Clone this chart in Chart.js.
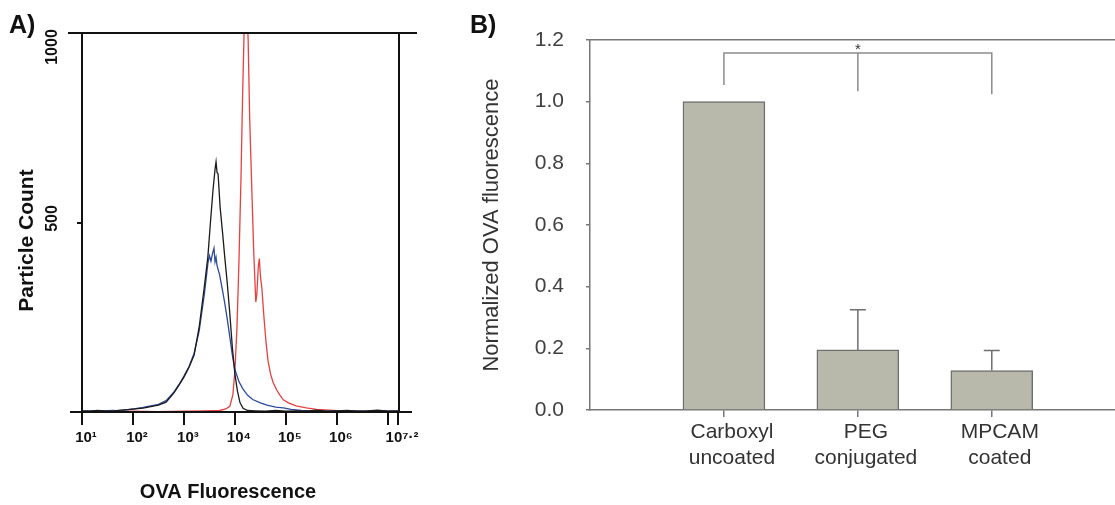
<!DOCTYPE html>
<html>
<head>
<meta charset="utf-8">
<script src="https://cdn.jsdelivr.net/npm/chart.js@4.4.0/dist/chart.umd.min.js"></script>
<style>
  body { margin: 0; background: #fff; width: 1115px; height: 505px; position: relative; overflow: hidden; font-family: 'Liberation Sans', Arial, sans-serif; }
  #wrapA { position: absolute; left: 0; top: 0; width: 450px; height: 505px; }
  #wrapB { position: absolute; left: 460px; top: 0; width: 655px; height: 505px; }
  .panel { position: absolute; font-weight: bold; font-size: 25px; color: #111; line-height: 1; }
</style>
</head>
<body>
<div id="wrapA"><canvas id="histChart"></canvas></div>
<div id="wrapB"><canvas id="barChart"></canvas></div>
<div class="panel" style="left:9px;top:12px">A)</div>
<div class="panel" style="left:470px;top:12px">B)</div>

<script>
// ---- Panel A: flow histogram (x = log10 of OVA fluorescence, y = particle count)
const blackCurve = [
  [1.0,3],[1.15,2],[1.3,4],[1.45,3],[1.6,2],[1.75,5],[1.9,6],[2.05,8],[2.2,10],[2.35,14],
  [2.5,18],[2.65,26],[2.8,50],[2.9,70],[3.0,92],[3.1,118],[3.2,150],[3.3,225],[3.4,330],[3.47,410],
  [3.52,500],[3.57,585],[3.61,640],[3.63,660],[3.65,632],[3.67,628],[3.71,540],[3.76,470],[3.8,410],[3.85,340],
  [3.9,260],[3.95,170],[4.0,100],[4.05,55],[4.1,25],[4.16,10],[4.25,4],[4.4,3],[4.6,2],[4.8,4],
  [5.0,2],[5.2,3],[5.4,2],[5.6,5],[5.8,2],[6.0,3],[6.2,4],[6.4,2],[6.6,3],[6.8,5],[7.0,2],[7.2,3]
];
const blueCurve = [
  [1.0,2],[1.15,3],[1.3,2],[1.45,3],[1.6,4],[1.75,3],[1.9,6],[2.05,9],[2.2,12],[2.35,16],
  [2.5,20],[2.65,30],[2.8,52],[2.9,72],[3.0,95],[3.1,120],[3.2,155],[3.3,215],[3.4,310],[3.47,392],
  [3.5,412],[3.53,398],[3.56,418],[3.59,432],[3.61,396],[3.63,408],[3.65,386],[3.7,362],[3.76,318],[3.8,288],
  [3.85,245],[3.9,198],[3.95,150],[4.0,112],[4.08,80],[4.16,60],[4.25,44],[4.35,33],[4.5,24],[4.63,18],
  [4.8,13],[4.95,11],[5.1,7],[5.3,4],[5.5,3],[5.8,2],[6.1,3],[6.5,2],[6.8,3],[7.2,2]
];
const redCurve = [
  [1.0,1],[1.5,1],[2.0,2],[2.5,1],[3.0,2],[3.4,3],[3.7,4],[3.82,8],[3.9,15],[3.96,45],
  [4.0,110],[4.04,220],[4.08,400],[4.12,620],[4.15,830],[4.18,1000],[4.21,1090],[4.24,1060],[4.26,980],[4.29,775],
  [4.33,595],[4.37,420],[4.41,290],[4.43,310],[4.46,385],[4.48,405],[4.5,360],[4.53,325],[4.57,250],[4.61,185],
  [4.65,135],[4.7,100],[4.75,78],[4.82,58],[4.88,45],[4.95,32],[5.05,24],[5.2,16],[5.4,11],[5.6,7],
  [5.85,5],[6.1,3],[6.4,2],[6.8,2],[7.2,1]
];
const tickExpA = [1, 2, 3, 4, 5, 6, 7, 7.2];
const tickLabelA = ['10¹', '10²', '10³', '10⁴', '10⁵', '10⁶', '', '10⁷·²'];
const countTicksA = [500, 1000];

// ---- Panel B: normalized fluorescence bars
const categories = [['Carboxyl', 'uncoated'], ['PEG', 'conjugated'], ['MPCAM', 'coated']];
const catPos = [1, 2, 3];
const meanFluor = [1.0, 0.195, 0.128];
const errFluor = [0, 0.13, 0.065];
const yTicksB = [0, 0.2, 0.4, 0.6, 0.8, 1.0, 1.2];
const bracketX = [1, 1, 3, 3];
const bracketY = [1.054, 1.158, 1.158, 1.024];
const midLegX = [2, 2];
const midLegY = [1.158, 1.034];
const starY = 1.178;

const FAM = "'Liberation Sans', Arial, sans-serif";
Chart.defaults.font.family = FAM;

const toPts = arr => arr.map(p => ({ x: Math.pow(10, p[0]), y: p[1] }));

// box, rotated count labels and axis titles for panel A
const frameA = {
  id: 'frameA',
  afterDatasetsDraw(chart) {
    const { ctx, chartArea: a, scales: { y } } = chart;
    ctx.save();
    ctx.strokeStyle = '#111';
    ctx.lineWidth = 2;
    ctx.beginPath();
    ctx.moveTo(a.left - 14, a.top); ctx.lineTo(a.right + 19, a.top);
    ctx.moveTo(a.left - 12, a.bottom); ctx.lineTo(a.right + 14, a.bottom);
    ctx.moveTo(a.left, a.top); ctx.lineTo(a.left, a.bottom);
    ctx.moveTo(a.right + 1, a.top); ctx.lineTo(a.right + 1, a.bottom);
    ctx.stroke();

    ctx.fillStyle = '#111';
    ctx.textAlign = 'center';
    ctx.textBaseline = 'middle';
    ctx.font = 'bold 16px ' + FAM;
    countTicksA.forEach(v => {
      const cy = Math.max(y.getPixelForValue(v) - 4, a.top + 14);
      ctx.save();
      ctx.translate(a.left - 29, cy);
      ctx.rotate(-Math.PI / 2);
      ctx.fillText(String(v), 0, 0);
      ctx.restore();
    });

    ctx.font = 'bold 21px ' + FAM;
    ctx.save();
    ctx.translate(a.left - 55, (a.top + a.bottom) / 2 + 18);
    ctx.rotate(-Math.PI / 2);
    ctx.fillText('Particle Count', 0, 0);
    ctx.restore();

    ctx.font = 'bold 20px ' + FAM;
    ctx.fillText('OVA Fluorescence', (a.left + a.right) / 2 - 12, a.bottom + 80);
    ctx.restore();
  }
};

new Chart(document.getElementById('histChart'), {
  type: 'line',
  data: {
    datasets: [
      { data: toPts(blackCurve), borderColor: '#1b1b1b', borderWidth: 1.3 },
      { data: toPts(blueCurve), borderColor: '#2c4a9e', borderWidth: 1.3 },
      { data: toPts(redCurve), borderColor: '#e8403f', borderWidth: 1.3 }
    ]
  },
  options: {
    responsive: true,
    maintainAspectRatio: false,
    animation: false,
    layout: { padding: { top: 33, right: 52, left: 0, bottom: 0 } },
    elements: { point: { radius: 0 }, line: { tension: 0 } },
    plugins: { legend: { display: false }, tooltip: { enabled: false } },
    scales: {
      x: {
        type: 'logarithmic',
        min: 10,
        max: Math.pow(10, 7.2),
        afterBuildTicks: s => { s.ticks = tickExpA.map(e => ({ value: Math.pow(10, e) })); },
        afterFit: s => { s.height = 93; },
        grid: { drawOnChartArea: false, color: '#111', lineWidth: 2, tickLength: 13 },
        border: { display: false },
        ticks: {
          autoSkip: false, maxRotation: 0, padding: 4, labelOffset: 4, color: '#111',
          font: { size: 15, weight: 'bold' },
          callback: (v, i) => tickLabelA[i]
        }
      },
      y: {
        min: 0,
        max: 1000,
        afterBuildTicks: s => { s.ticks = countTicksA.map(v => ({ value: v })); },
        afterFit: s => { s.width = 82; },
        grid: { drawOnChartArea: false, color: '#111', lineWidth: 2, tickLength: 5 },
        border: { display: false },
        ticks: { display: false }
      }
    }
  },
  plugins: [frameA]
});

// error bars and significance star for panel B
const extrasB = {
  id: 'extrasB',
  afterDatasetsDraw(chart) {
    const { ctx, scales: { x, y } } = chart;
    ctx.save();
    ctx.strokeStyle = '#6f6f6f';
    ctx.lineWidth = 1.5;
    catPos.forEach((c, i) => {
      if (!errFluor[i]) return;
      const px = x.getPixelForValue(c);
      const y0 = y.getPixelForValue(meanFluor[i]);
      const y1 = y.getPixelForValue(meanFluor[i] + errFluor[i]);
      ctx.beginPath();
      ctx.moveTo(px, y0); ctx.lineTo(px, y1);
      ctx.moveTo(px - 8, y1); ctx.lineTo(px + 8, y1);
      ctx.stroke();
    });
    ctx.fillStyle = '#333';
    ctx.font = '15px ' + FAM;
    ctx.textAlign = 'center';
    ctx.textBaseline = 'middle';
    ctx.fillText('*', x.getPixelForValue(midLegX[0]), y.getPixelForValue(starY) + 3);
    ctx.restore();
  }
};

const axisGray = '#777';
new Chart(document.getElementById('barChart'), {
  type: 'bar',
  data: {
    datasets: [
      {
        type: 'bar',
        data: catPos.map((c, i) => ({ x: c, y: meanFluor[i] })),
        backgroundColor: '#b8b8ab',
        borderColor: '#6f6f6f',
        borderWidth: 1.5,
        barThickness: 82
      },
      {
        type: 'line',
        data: bracketX.map((v, i) => ({ x: v, y: bracketY[i] })),
        borderColor: '#8c8c8c', borderWidth: 1.5, pointRadius: 0, tension: 0
      },
      {
        type: 'line',
        data: midLegX.map((v, i) => ({ x: v, y: midLegY[i] })),
        borderColor: '#8c8c8c', borderWidth: 1.5, pointRadius: 0, tension: 0
      }
    ]
  },
  options: {
    responsive: true,
    maintainAspectRatio: false,
    animation: false,
    layout: { padding: { top: 40, right: 0, left: 0, bottom: 0 } },
    plugins: { legend: { display: false }, tooltip: { enabled: false } },
    scales: {
      x: {
        type: 'linear',
        offset: false,
        min: 0,
        max: 3.92,
        afterBuildTicks: s => { s.ticks = catPos.map(v => ({ value: v })); },
        afterFit: s => { s.height = 95; },
        grid: { offset: false, drawOnChartArea: false, color: axisGray, lineWidth: 1.5, tickLength: 7 },
        border: { color: axisGray, width: 1.5 },
        ticks: {
          autoSkip: false, maxRotation: 0, padding: 2, labelOffset: 8, color: '#333',
          font: { size: 21, lineHeight: 1.25 },
          callback: (v, i) => categories[i]
        }
      },
      x2: {
        type: 'linear',
        position: 'top',
        offset: false,
        min: 0,
        max: 3.92,
        afterFit: s => { s.height = 0; },
        grid: { display: false },
        ticks: { display: false },
        border: { color: axisGray, width: 1.5 }
      },
      y: {
        min: 0,
        max: 1.2,
        afterBuildTicks: s => { s.ticks = yTicksB.map(v => ({ value: v })); },
        afterFit: s => { s.width = 130; },
        grid: { drawOnChartArea: false, color: axisGray, lineWidth: 1.5, tickLength: 4 },
        border: { color: axisGray, width: 1.5 },
        ticks: {
          padding: 22, color: '#404040', font: { size: 21 },
          callback: v => Number(v).toFixed(1)
        },
        title: {
          display: true, text: 'Normalized OVA fluorescence', color: '#333',
          font: { size: 22 }, padding: { top: 19, bottom: 0 }
        }
      }
    }
  },
  plugins: [extrasB]
});
</script>
</body>
</html>
